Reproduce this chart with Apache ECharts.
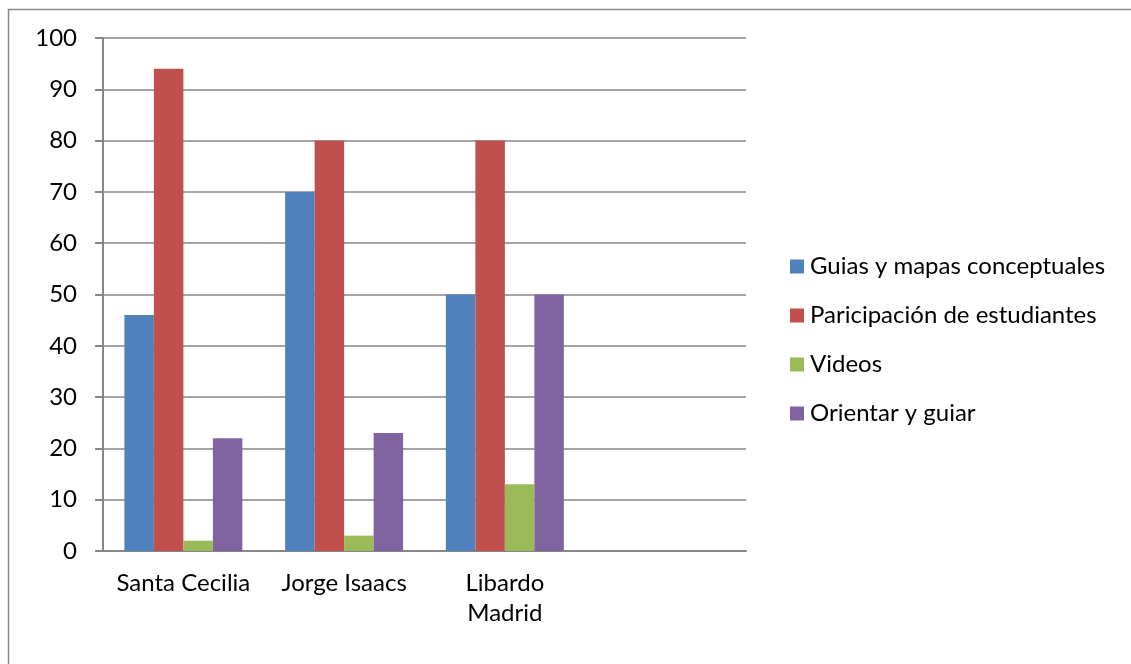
<!DOCTYPE html>
<html>
<head>
<meta charset="utf-8">
<script src="https://cdn.jsdelivr.net/npm/echarts@6/dist/echarts.min.js"></script>
<style>
  html, body { margin: 0; padding: 0; background: #fff; }
  #chart { width: 1131px; height: 664px; }
</style>
</head>
<body>
<div id="chart"></div>
<script>
// Data
const categories = ['Santa Cecilia', 'Jorge Isaacs', 'Libardo\nMadrid', '']
const guias = [46, 70, 50, null]
const participacion = [94, 80, 80, null]
const videos = [2, 3, 13, null]
const orientar = [22, 23, 50, null]
const seriesNames = ['Guias y mapas conceptuales', 'Paricipación de estudiantes', 'Videos', 'Orientar y guiar']

const COLORS = ['#4F81BD', '#C0504D', '#9BBB59', '#8064A2']
const AXIS_GRAY = '#868686'
const FONT = 'Lato'
const FONT_SIZE = 24

const chart = echarts.init(document.getElementById('chart'))

const makeBar = (name, data, i) => ({
  name,
  type: 'bar',
  data,
  barGap: '0%',
  barCategoryGap: '26.6%',
  itemStyle: { color: COLORS[i] }
})

const option = {
  animation: false,
  textStyle: { fontFamily: FONT },
  graphic: [{
    type: 'rect',
    shape: { x: 8.5, y: 9.5, width: 1140, height: 680 },
    style: { fill: 'none', stroke: AXIS_GRAY, lineWidth: 1.5 },
    z: -1
  }],
  legend: {
    orient: 'vertical',
    left: 790,
    top: 252,
    padding: 0,
    itemWidth: 14,
    itemHeight: 14,
    itemGap: 20,
    icon: 'rect',
    textStyle: { fontSize: FONT_SIZE, color: '#000', fontFamily: FONT, padding: [0, 0, 0, 1], lineHeight: 29 },
    data: seriesNames
  },
  grid: { left: 103, right: 385, top: 38, bottom: 113, containLabel: false },
  xAxis: {
    type: 'category',
    data: categories,
    axisLine: { lineStyle: { color: AXIS_GRAY, width: 2 } },
    axisTick: { length: 9, lineStyle: { color: AXIS_GRAY, width: 2 } },
    axisLabel: {
      color: '#000', fontSize: FONT_SIZE, fontFamily: FONT,
      margin: 17, lineHeight: 30, interval: 0
    }
  },
  yAxis: {
    type: 'value',
    min: 0,
    max: 100,
    interval: 10,
    axisLine: { show: true, lineStyle: { color: AXIS_GRAY, width: 2 } },
    axisTick: { show: true, length: 8, lineStyle: { color: AXIS_GRAY, width: 2 } },
    splitLine: { lineStyle: { color: AXIS_GRAY, width: 1.5 } },
    axisLabel: { color: '#000', fontSize: FONT_SIZE, fontFamily: FONT, margin: 26 }
  },
  series: [
    makeBar(seriesNames[0], guias, 0),
    makeBar(seriesNames[1], participacion, 1),
    makeBar(seriesNames[2], videos, 2),
    makeBar(seriesNames[3], orientar, 3)
  ]
}

chart.setOption(option)
</script>
</body>
</html>
